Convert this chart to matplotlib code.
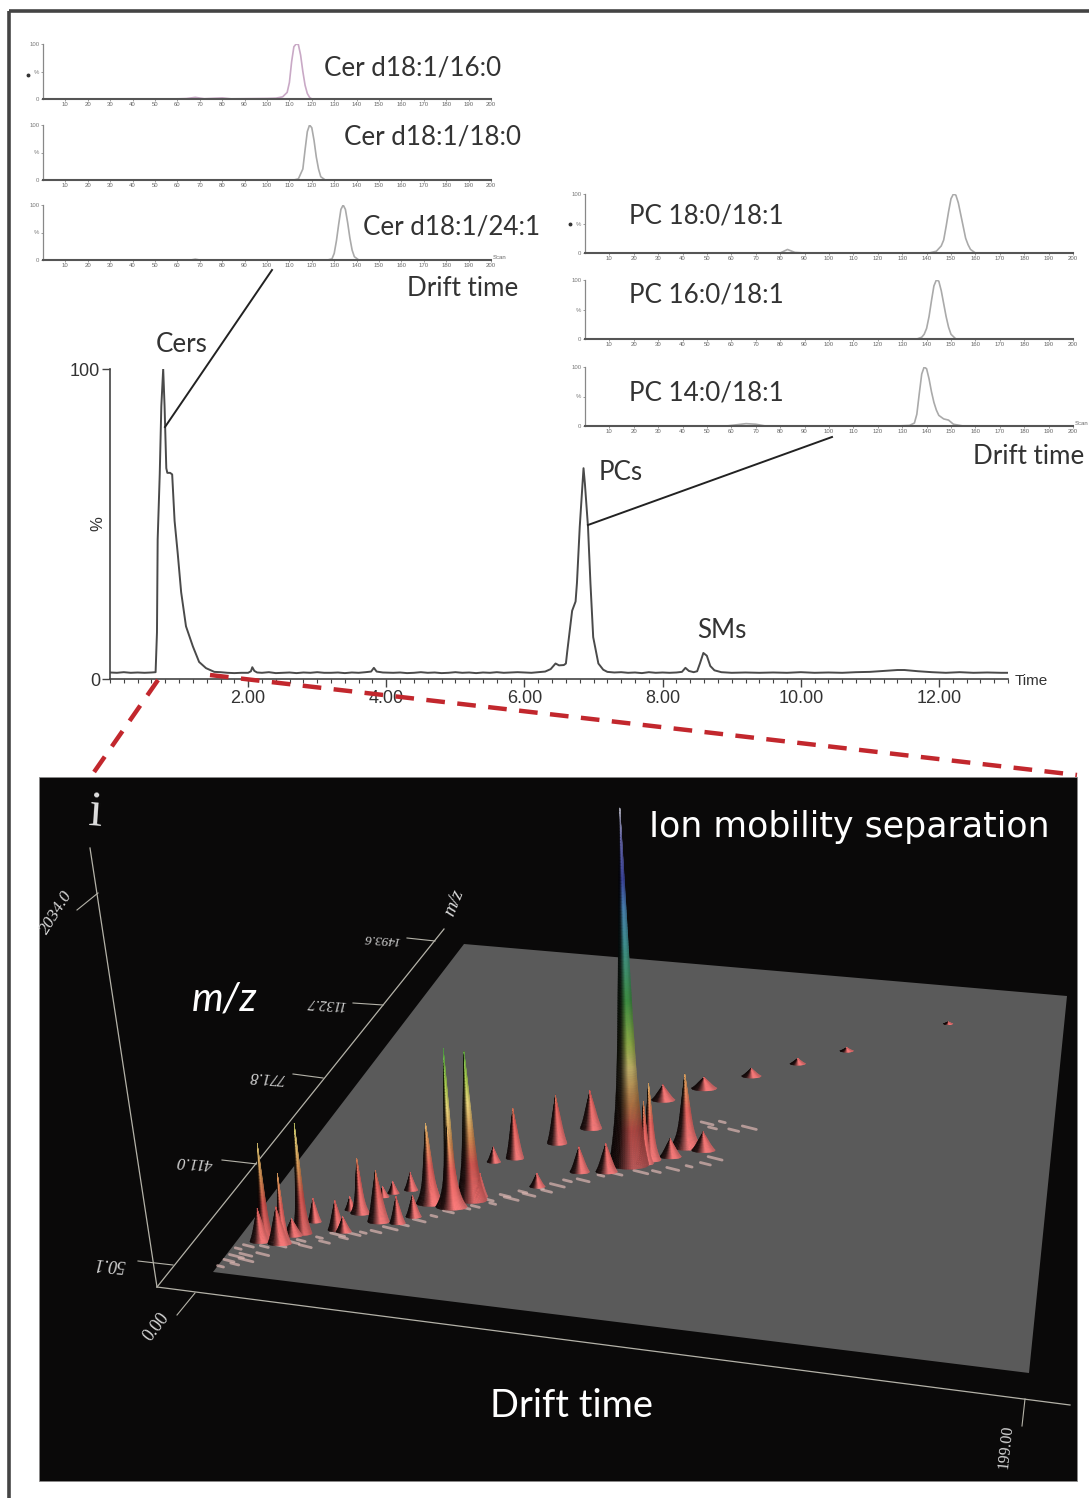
import numpy as np
import matplotlib
matplotlib.use("Agg")
import matplotlib.pyplot as plt
from matplotlib.collections import PolyCollection
from matplotlib.colors import LinearSegmentedColormap, Normalize
from matplotlib.patches import Polygon, Rectangle

W, H = 1089, 1498
TEXT = "#333333"
LABEL_FONT = "Lato"
AXIS_FONT = "Liberation Sans"

# ---- main chromatogram ----
tic_time = [0.0,0.1,0.2,0.3,0.4,0.5,0.6,0.66,0.68,0.69,0.72,0.743,0.77,0.79,0.815,0.83,0.87,0.90,0.935,0.98,1.03,1.10,1.2,1.29,1.39,1.51,1.6,1.7,1.8,1.9,2.0,2.04,2.06,2.09,2.13,2.2,2.3,2.4,2.5,2.6,2.7,2.8,2.9,3.0,3.1,3.2,3.3,3.4,3.5,3.6,3.7,3.78,3.82,3.86,3.95,4.1,4.2,4.3,4.4,4.5,4.6,4.7,4.8,4.9,5.0,5.1,5.2,5.3,5.4,5.5,5.6,5.7,5.8,5.9,6.0,6.1,6.2,6.3,6.38,6.45,6.50,6.57,6.60,6.62,6.69,6.74,6.76,6.80,6.84,6.855,6.875,6.92,6.955,6.995,7.07,7.14,7.2,7.3,7.4,7.5,7.6,7.7,7.8,7.9,8.0,8.1,8.2,8.28,8.33,8.38,8.45,8.5,8.54,8.59,8.64,8.69,8.75,8.85,9.0,9.2,9.4,9.6,9.8,10.0,10.2,10.4,10.6,10.8,11.0,11.2,11.4,11.5,11.7,11.9,12.1,12.3,12.5,12.7,12.9,13.0]
tic_value = [2.1,2.0,2.2,2.0,2.1,2.0,2.1,2.2,15,45,66,88,100,88,68,66.5,66.5,66,51,40.6,28,17,10.5,5.5,3.5,2.3,2.2,2.0,1.9,2.0,2.0,2.5,3.8,2.6,2.1,2.0,2.2,1.9,2.0,2.1,1.9,2.1,2.0,2.2,2.0,2.0,2.1,1.9,2.1,2.0,2.2,2.4,3.6,2.4,2.1,2.0,2.1,1.9,2.0,2.2,2.0,2.1,1.9,2.0,2.2,2.0,2.1,1.9,2.1,2.0,2.2,2.0,2.1,2.2,2.1,2.0,2.2,2.4,3.2,5,4.4,4.5,5,9,22,25,31,49,63,68,63,49,31,13.5,5,3,2.3,2.1,2.2,2.0,2.1,1.9,2.2,2.0,2.1,2.0,2.1,2.3,3.6,2.6,2.2,2.5,5,8.4,7.5,4.2,2.8,2.2,2.0,2.1,2.0,2.1,2.0,2.2,2.0,2.1,2.0,2.2,2.3,2.6,2.9,2.9,2.5,2.2,2.0,2.2,2.0,2.1,2.0,2.0]
tic_ticks = [2, 4, 6, 8, 10, 12]

# ---- drift-time extracted traces ----
scan_ticks = list(range(10, 201, 10))

cer16_scan = [0,58,64,68,72,80,84,100,104,107,109,110,111,112,113,114,115,116,117,118,119,120,200]
cer16_val  = [0,0,0.8,3,0.5,2,0.3,1,1.5,4,12,30,68,95,100,99,80,50,25,10,3,0,0]
cer18_scan = [0,112,114,116,117,118,119,120,121,122,123,124,126,200]
cer18_val  = [0,0,2,20,55,88,100,95,72,42,20,6,0,0]
cer24_scan = [0,66,68,70,127,129,130,131,132,133,134,135,136,137,138,139,141,200]
cer24_val  = [0,0,1.5,0,0,2,12,35,65,92,100,92,68,40,18,6,0,0]
pc18_scan = [0,80,83,86,90,141,144,146,147,148,149,150,151,152,153,154,155,156,157,158,160,200]
pc18_val  = [0,0,6,1,0,0,3,12,22,45,70,92,100,98,85,65,45,25,14,6,0,0]
pc16_scan = [0,136,138,139,140,141,142,143,144,145,146,147,148,149,150,152,200]
pc16_val  = [0,0,3,8,18,38,65,90,100,98,82,60,38,20,8,0,0]
pc14_scan = [0,58,62,66,70,74,128,133,135,136,137,138,139,140,141,142,143,144,145,147,149,151,155,200]
pc14_val  = [0,0,2,4,3,0,0,1,5,20,55,88,100,97,80,58,40,27,18,12,10,3,0,0]

# ---- ion mobility surface: drift bin, m/z, intensity ----
peak_drift = [7,12,15,6,11,13,16,23,25,26,23,32,29,31,35,37,40,42,48,48,52,43,54,52,57,66,73,67,76,83,88,92,93,101,89,99,98,106,111,123,136,164]
peak_mz    = [195,190,239,187,188,227,291,268,265,347,356,321,427,447,469,324,358,421,417,417,455,423,474,634,661,752,841,545,631,645,687,702,721,800,1022,1105,746,793,1196,1290,1390,1610]
peak_int   = [551,399,627,190,209,95,133,171,85,313,76,294,57,66,99,152,123,456,465,902,845,171,133,85,285,275,215,76,142,161,2034,351,437,414,85,63,104,104,44,30,18,9]
peak_wid   = [10,9,10,10,11,10,7,9,8,10,6,11,6,6,7,8,8,14,16,11,16,9,7,7,9,10,11,8,10,11,20,9,11,16,12,13,11,12,10,8,7,5]

streak_drift = [1,2,3,4,5,2,4,6,8,9,10,12,14,16,18,20,22,24,26,28,30,33,36,39,42,45,48,51,54,56,58,60,62,64,66,68,70,72,74,78,82,86,92,96,100,104,108,110,106,104,108,112,116]
streak_mz    = [75,100,120,90,130,150,165,110,170,140,190,180,200,210,190,230,215,250,240,260,270,280,300,320,345,370,395,420,430,465,450,490,480,515,505,540,530,560,585,595,625,640,660,670,690,710,730,760,905,925,940,905,925]

# axis tick labels of the surface view
mz_tick_labels = ["50.1", "411.0", "771.8", "1132.7", "1493.6"]

stops = [(0.0,(0.86,0.40,0.40)),(0.10,(0.80,0.32,0.30)),(0.17,(0.80,0.52,0.30)),(0.27,(0.90,0.82,0.48)),(0.34,(0.66,0.80,0.32)),(0.46,(0.28,0.66,0.30)),(0.62,(0.30,0.68,0.68)),(0.72,(0.34,0.60,0.82)),(0.80,(0.28,0.32,0.72)),(0.92,(0.50,0.50,0.80)),(1.0,(0.92,0.92,0.96))]
cmap = LinearSegmentedColormap.from_list("drift", stops)
norm = Normalize(0, 2034)


def axes_px(x0, ytop, x1, ybot, **kw):
    return fig.add_axes([x0 / W, 1 - ybot / H, (x1 - x0) / W, (ybot - ytop) / H], **kw)


fig = plt.figure(figsize=(W / 100, H / 100), dpi=100, facecolor="white")

# pixel-space canvas for the panel furniture
bg = fig.add_axes([0, 0, 1, 1], zorder=0)
bg.set_xlim(0, W); bg.set_ylim(H, 0); bg.axis("off")
bg.plot([9, 9], [11, H], color="#444444", lw=2.6, solid_capstyle="butt")
bg.plot([9, W], [11, 11], color="#444444", lw=2.6, solid_capstyle="butt")
bg.add_patch(Rectangle((39, 777), 1038, 704, facecolor="#0a0909", edgecolor="#8a8a8a", lw=0.6))

# ---- surface plane ----
plane = np.array([[213, 1272], [1029, 1373], [1067, 996], [464, 944]], float)
bg.add_patch(Polygon(plane, closed=True, facecolor="#5a5a5a", edgecolor="none"))

A, B, C, D, E, F, G, HH = 742.0, 421.95, 212, -1.2, 13.6, 1272, -0.07378, 0.36334


def project(drift, mz):
    u = np.asarray(drift, float) / 199.0
    v = (np.asarray(mz, float) - 50.1) / (1854.4 - 50.1)
    den = G * u + HH * v + 1
    return (A * u + B * v + C) / den, (D * u + E * v + F) / den


sx, sy = project(streak_drift, streak_mz)
for x, y, n in zip(sx, sy, range(len(sx))):
    ln = 3 + (n * 7) % 5
    bg.plot([x - ln, x + ln], [y - ln * 0.25, y + ln * 0.25], color="#dcb6b2", lw=2.0, alpha=0.7, solid_capstyle="round")

# peaks, far to near
VP = np.array([802.0, 7964.0])
px, py = project(peak_drift, peak_mz)
order = np.argsort(py)
cross = np.linspace(-1, 1, 21)
shade_in = [-1.0, -0.55, -0.2, 0.2, 0.6, 1.0]
shade_out = [0.05, 0.16, 0.55, 1.05, 1.0, 0.8]
polys, cols = [], []
for i in order:
    bx, by = px[i], py[i]
    height = peak_int[i] * 0.1755
    wid = peak_wid[i]
    d = np.array([bx, by]) - VP
    d = d / np.linalg.norm(d)
    levels = np.linspace(0, 1, max(14, int(height / 2.5))) ** 1.15
    if peak_int[i] >= 300:
        hw = wid * (0.4 * (1 - levels) ** 8 + 0.6 * (1 - levels) ** 0.9)
    else:
        hw = wid * (0.3 * (1 - levels) ** 5 + 0.7 * (1 - levels ** 1.6) ** 1.1)
    tone = 0.82 if peak_int[i] > 1000 else 1.0
    xs = np.empty((len(levels), len(cross)))
    ys = np.empty_like(xs)
    for j, t in enumerate(levels):
        xs[j] = bx + d[0] * t * height + hw[j] * cross
        ys[j] = by + d[1] * t * height + 0.22 * hw[j] * np.sqrt(1 - cross ** 2)
    for j in range(len(levels) - 1):
        rgb = np.array(cmap(norm(levels[j] * peak_int[i]))[:3]) * tone
        if peak_int[i] < 500:
            rgb = np.clip(rgb * 1.05 + 0.05, 0, 1)
        for k in range(len(cross) - 1):
            s = 0.5 * (cross[k] + cross[k + 1])
            col = np.clip(rgb * np.interp(s, shade_in, shade_out), 0, 1)
            polys.append([(xs[j, k], ys[j, k]), (xs[j, k + 1], ys[j, k + 1]),
                          (xs[j + 1, k + 1], ys[j + 1, k + 1]), (xs[j + 1, k], ys[j + 1, k])])
            cols.append(col)
bg.add_collection(PolyCollection(polys, facecolors=cols, edgecolors=cols, linewidths=0.25, zorder=3))

# ---- 3D view axes ----
AXC = "#b4b2a8"
O = (157, 1287)
for end in [(90, 848), (444, 929), (1070, 1405)]:
    bg.plot([O[0], end[0]], [O[1], end[1]], color=AXC, lw=0.9, zorder=2)
mz_ticks = [((138, 1261), (173, 1265), (110, 1263), 13), ((222, 1160), (257, 1164), (195, 1162), 12),
            ((293, 1074), (323, 1078), (267, 1077), 11.5), ((353, 1003), (383, 1005), (327, 1003), 10.5),
            ((407, 938), (435, 941), (382, 939), 9.5)]
for (a, b, c, fs), lab in zip(mz_ticks, mz_tick_labels):
    bg.plot([a[0], b[0]], [a[1], b[1]], color=AXC, lw=0.8, zorder=2)
    bg.text(c[0], c[1], lab, color="#d5d5d5", rotation=176, fontsize=fs, family="Liberation Serif",
            style="italic", ha="center", va="center")
bg.plot([195, 177], [1293, 1315], color=AXC, lw=0.8)
bg.plot([1025, 1022], [1399, 1426], color=AXC, lw=0.8)
bg.plot([77, 98], [910, 893], color=AXC, lw=0.8)
bg.text(156, 1327, "0.00", color="#d8d8d8", rotation=52, fontsize=13, family="Liberation Serif", ha="center", va="center")
bg.text(1006, 1447, "199.00", color="#d8d8d8", rotation=84, fontsize=11.5, family="Liberation Serif", ha="center", va="center")
bg.text(56, 912, "2034.0", color="#d8d8d8", rotation=58, fontsize=12.5, family="Liberation Serif", style="italic", ha="center", va="center")
bg.text(454, 903, "m/z", color="#d8d8d8", rotation=68, fontsize=14, family="Liberation Serif", style="italic", ha="center", va="center")
bg.text(96, 813, "i", color="#e0e0e0", rotation=-4, fontsize=36, family="Liberation Serif", ha="center", va="center")

bg.text(849, 827, "Ion mobility separation", color="white", fontsize=25, family="DejaVu Sans", ha="center", va="center")
bg.text(225, 999, "m/z", color="white", fontsize=29, family=LABEL_FONT, style="italic", ha="center", va="center")
bg.text(571, 1406, "Drift time", color="white", fontsize=27.4, family=LABEL_FONT, ha="center", va="center")

# ---- main chromatogram axes ----
ax = axes_px(110, 369, 1008, 679, zorder=2)
ax.patch.set_alpha(0)
ax.plot(tic_time, tic_value, color="#4a4a4a", lw=1.4)
ax.set_xlim(0, 13); ax.set_ylim(0, 100)
ax.spines[["top", "right"]].set_visible(False)
for s in ("left", "bottom"):
    ax.spines[s].set_color("#444444"); ax.spines[s].set_linewidth(1.2)
ax.set_xticks(tic_ticks)
ax.set_xticklabels([f"{v:.2f}" for v in tic_ticks], fontsize=13, family=AXIS_FONT, color=TEXT)
ax.set_xticks(np.arange(0, 13.01, 0.2), minor=True)
ax.set_yticks([0, 100]); ax.set_yticklabels(["0", "100"], fontsize=13, family=AXIS_FONT, color=TEXT)
ax.tick_params(axis="x", which="major", length=6, width=1, color="#444444", pad=2)
ax.tick_params(axis="x", which="minor", length=3, width=0.8, color="#444444")
ax.tick_params(axis="y", length=6, width=1, color="#444444", pad=1)
ax.text(-0.0134, 0.5, "%", rotation=90, transform=ax.transAxes, fontsize=12, family=AXIS_FONT, color=TEXT, ha="center", va="center")
ax.text(1.0075, -0.006, "Time", transform=ax.transAxes, fontsize=11, family=AXIS_FONT, color=TEXT, ha="left", va="center")


def inset(x0, x1, ytop, ybot, scan, val, color, scan_label=False):
    a = axes_px(x0, ytop, x1, ybot, zorder=2)
    a.patch.set_alpha(0)
    a.plot(scan, val, color=color, lw=1.2)
    a.set_xlim(0, 200); a.set_ylim(0, 100)
    a.spines[["top", "right"]].set_visible(False)
    a.spines["bottom"].set_color("#555555"); a.spines["bottom"].set_linewidth(1.5)
    a.spines["left"].set_color("#888888"); a.spines["left"].set_linewidth(0.9)
    a.set_xticks(scan_ticks)
    a.set_xticklabels([str(v) for v in scan_ticks], fontsize=4.3, color="#666666", family=AXIS_FONT)
    a.set_yticks([0, 50, 100]); a.set_yticklabels(["0", "%", "100"], fontsize=4.3, color="#777777", family=AXIS_FONT)
    a.tick_params(axis="both", length=1.5, width=0.5, color="#777777", pad=1)
    if scan_label:
        a.text(1.003, 0.05, "Scan", transform=a.transAxes, fontsize=4.3, color="#666666", family=AXIS_FONT, ha="left", va="center")


inset(43, 491, 44, 99, cer16_scan, cer16_val, "#c9a9c6")
inset(43, 491, 125, 180, cer18_scan, cer18_val, "#aaaaaa")
inset(43, 491, 205, 260, cer24_scan, cer24_val, "#aaaaaa", True)
inset(585, 1073, 194, 253, pc18_scan, pc18_val, "#aaaaaa")
inset(585, 1073, 280, 339, pc16_scan, pc16_val, "#aaaaaa")
inset(585, 1073, 367, 426, pc14_scan, pc14_val, "#aaaaaa", True)

# ---- top overlay: labels, call-out lines, zoom guide ----
top = fig.add_axes([0, 0, 1, 1], zorder=5)
top.patch.set_alpha(0)
top.set_xlim(0, W); top.set_ylim(H, 0); top.axis("off")
top.plot([165, 272], [427, 270], color="#222222", lw=1.4)
top.plot([588, 832], [525, 437], color="#222222", lw=1.4)
for seg in ([158, 92], [680, 775]), ([210, 1077], [675, 775]):
    top.plot(seg[0], seg[1], color="#c2272d", lw=3.2, dashes=(4.2, 2.8))
top.plot([28], [75], marker="o", ms=1.8, color="#333333")
top.plot([570], [224], marker="o", ms=1.8, color="#333333")
labels = [("Cer d18:1/16:0", 413, 68), ("Cer d18:1/18:0", 433, 137), ("Cer d18:1/24:1", 452, 227),
          ("Drift time", 463, 289), ("PC 18:0/18:1", 706, 216), ("PC 16:0/18:1", 706, 295),
          ("PC 14:0/18:1", 706, 393), ("Drift time", 1029, 457), ("Cers", 182, 345),
          ("PCs", 621, 473), ("SMs", 722, 630)]
for s, x, y in labels:
    top.text(x, y, s, fontsize=18.7, family=LABEL_FONT, color=TEXT, ha="center", va="center")

fig.savefig("out.png", dpi=100)
